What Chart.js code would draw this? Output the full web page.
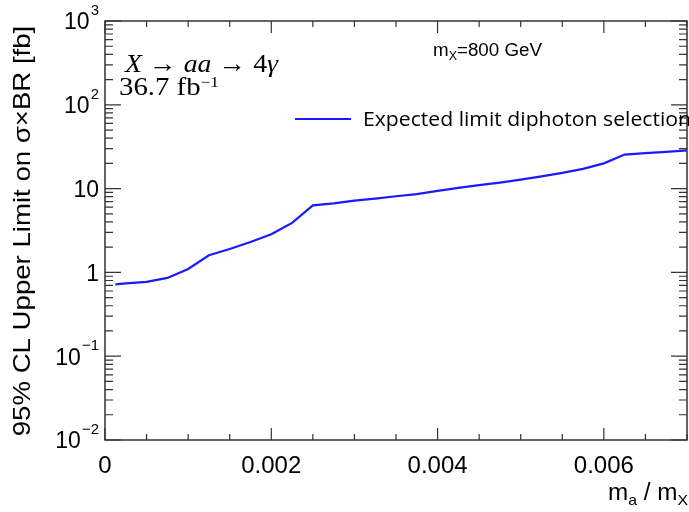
<!DOCTYPE html>
<html>
<head>
<meta charset="utf-8">
<script src="https://cdn.jsdelivr.net/npm/chart.js@4.4.1/dist/chart.umd.min.js"></script>
<style>
  body { margin: 0; background: #fff; }
  canvas { display: block; }
</style>
</head>
<body>
<canvas id="limitChart" width="689" height="512"></canvas>
<script>
// m_a / m_X values and expected limit (fb)
const massRatio = [0.000125, 0.00025, 0.0005, 0.00075, 0.001, 0.00125, 0.0015, 0.00175, 0.002,
    0.00225, 0.0025, 0.00275, 0.003, 0.00325, 0.0035, 0.00375, 0.004, 0.00425, 0.0045,
    0.00475, 0.005, 0.00525, 0.0055, 0.00575, 0.006, 0.00625, 0.0065, 0.00675, 0.007];
const expectedLimit = [0.72, 0.74, 0.77, 0.86, 1.1, 1.6, 1.9, 2.3, 2.85,
    3.9, 6.3, 6.65, 7.2, 7.6, 8.1, 8.6, 9.4, 10.2, 11.0,
    11.8, 12.8, 14.0, 15.4, 17.2, 20.0, 25.5, 26.5, 27.5, 28.6];

const xTickValues = [0, 0.002, 0.004, 0.006];
const xTickLabels = ['0', '0.002', '0.004', '0.006'];
const yTickValues = [0.01, 0.1, 1, 10, 100, 1000];
const yTickBases = ['10', '10', '1', '10', '10', '10'];
const yTickExps = ['\u22122', '\u22121', '', '', '2', '3'];

const lineColor = '#1a1aff';
const axisColor = '#333333';

// écrit un texte en plusieurs morceaux, étiré pour tenir dans une largeur donnée
function drawParts(ctx, parts, x0, targetWidth) {
    let total = 0;
    parts.forEach(p => { ctx.font = p.font; total += ctx.measureText(p.text).width; });
    const sx = targetWidth ? targetWidth / total : 1;
    ctx.save();
    ctx.translate(x0, 0);
    ctx.scale(sx, 1);
    let x = 0;
    parts.forEach(p => {
        ctx.font = p.font;
        ctx.fillText(p.text, x, p.y);
        x += ctx.measureText(p.text).width;
    });
    ctx.restore();
}

// cadre, graduations internes, textes et légende dessinés sur le canvas
const rootStylePlugin = {
    id: 'rootStyle',
    afterDraw(chart) {
        const ctx = chart.ctx;
        const area = chart.chartArea;
        const xs = chart.scales.x;
        const ys = chart.scales.y;
        ctx.save();

        // cadre
        ctx.strokeStyle = axisColor;
        ctx.lineWidth = 1.5;
        ctx.strokeRect(area.left, area.top, area.right - area.left, area.bottom - area.top);

        // graduations x (haut et bas)
        ctx.lineWidth = 1.2;
        ctx.beginPath();
        for (let i = 0; i <= 14; i++) {
            const px = xs.getPixelForValue(i * 0.0005);
            const len = (i % 4 === 0) ? 12 : 6;
            ctx.moveTo(px, area.bottom); ctx.lineTo(px, area.bottom - len);
            ctx.moveTo(px, area.top); ctx.lineTo(px, area.top + len);
        }
        // graduations y (gauche et droite)
        for (let e = -2; e <= 3; e++) {
            for (let m = 1; m <= 9; m++) {
                const v = m * Math.pow(10, e);
                if (v > 1000) break;
                const py = ys.getPixelForValue(v);
                const len = (m === 1) ? 16 : 8;
                ctx.moveTo(area.left, py); ctx.lineTo(area.left + len, py);
                ctx.moveTo(area.right, py); ctx.lineTo(area.right - len, py);
            }
        }
        ctx.stroke();

        ctx.fillStyle = '#000';
        ctx.textBaseline = 'middle';

        // étiquettes y avec exposants
        yTickValues.forEach((v, i) => {
            const py = ys.getPixelForValue(v);
            const right = 99;
            ctx.font = '15px "Liberation Sans"';
            const ew = yTickExps[i] ? ctx.measureText(yTickExps[i]).width + 1 : 0;
            ctx.textAlign = 'right';
            if (yTickExps[i]) ctx.fillText(yTickExps[i], right, py - 10);
            ctx.font = '23px "Liberation Sans"';
            ctx.fillText(yTickBases[i], right - ew, py + 2);
        });

        // titre axe y
        ctx.save();
        ctx.translate(23, 231);
        ctx.rotate(-Math.PI / 2);
        ctx.scale(1.15, 1);
        ctx.font = '24px "Liberation Sans"';
        ctx.textAlign = 'center';
        ctx.fillText('95% CL Upper Limit on \u03c3\u00d7BR [fb]', 0, 0);
        ctx.restore();

        ctx.textBaseline = 'alphabetic';
        ctx.textAlign = 'left';

        // titre axe x : m_a / m_X
        const big = '23px "Liberation Sans"';
        const sub = '15px "Liberation Sans"';
        drawParts(ctx, [
            { text: 'm', font: big, y: 500 },
            { text: 'a', font: sub, y: 505 },
            { text: ' / m', font: big, y: 500 },
            { text: 'X', font: sub, y: 505 }
        ], 608, 80);

        // X -> aa -> 4gamma
        drawParts(ctx, [
            { text: 'X', font: 'italic 26px "Liberation Serif"', y: 72 },
            { text: ' \u2192 ', font: '26px "Liberation Serif"', y: 72 },
            { text: 'aa', font: 'italic 26px "Liberation Serif"', y: 72 },
            { text: ' \u2192 4', font: '26px "Liberation Serif"', y: 72 },
            { text: '\u03b3', font: 'italic 26px "Liberation Serif"', y: 72 }
        ], 125, 153);

        // luminosité
        drawParts(ctx, [
            { text: '36.7 fb', font: '25px "Liberation Serif"', y: 95 },
            { text: '\u22121', font: '15px "Liberation Serif"', y: 87 }
        ], 119, 100);

        // m_X=800 GeV
        drawParts(ctx, [
            { text: 'm', font: '18px "Liberation Sans"', y: 56 },
            { text: 'X', font: '12px "Liberation Sans"', y: 60 },
            { text: '=800 GeV', font: '18px "Liberation Sans"', y: 56 }
        ], 433, 109);

        // légende
        ctx.strokeStyle = lineColor;
        ctx.lineWidth = 2.2;
        ctx.beginPath();
        ctx.moveTo(295, 119); ctx.lineTo(351, 119);
        ctx.stroke();
        ctx.textBaseline = 'middle';
        drawParts(ctx, [
            { text: 'Expected limit diphoton selection', font: '20px "Open Sans"', y: 120 }
        ], 363, 328);

        ctx.restore();
    }
};

const ctx = document.getElementById('limitChart').getContext('2d');
const limitChart = new Chart(ctx, {
    type: 'line',
    data: {
        datasets: [{
            label: 'Expected limit diphoton selection',
            data: massRatio.map((m, i) => ({ x: m, y: expectedLimit[i] })),
            borderColor: lineColor,
            borderWidth: 2.2,
            pointRadius: 0,
            tension: 0,
            fill: false
        }]
    },
    options: {
        responsive: false,
        animation: false,
        layout: { padding: { top: 21, right: 2, left: 0, bottom: 0 } },
        plugins: {
            legend: { display: false },
            tooltip: { enabled: false }
        },
        scales: {
            x: {
                type: 'linear',
                min: 0,
                max: 0.007,
                grid: { display: false },
                border: { display: false },
                afterBuildTicks: (s) => { s.ticks = xTickValues.map(v => ({ value: v })); },
                afterFit: (s) => { s.height = 72; },
                ticks: {
                    padding: 4,
                    maxRotation: 0,
                    color: '#000',
                    font: { family: 'Liberation Sans', size: 24 },
                    callback: (v) => xTickLabels[xTickValues.indexOf(v)]
                }
            },
            y: {
                type: 'logarithmic',
                min: 0.01,
                max: 1000,
                grid: { display: false },
                border: { display: false },
                afterFit: (s) => { s.width = 105; },
                ticks: { display: false }
            }
        }
    },
    plugins: [rootStylePlugin]
});
</script>
</body>
</html>
